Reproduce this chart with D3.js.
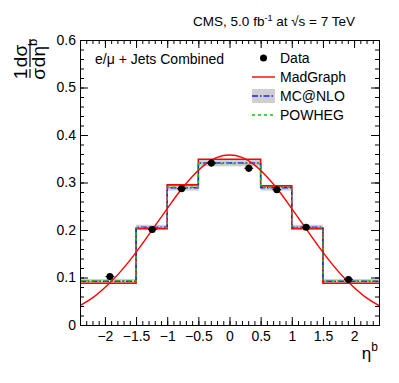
<!DOCTYPE html>
<html>
<head>
<meta charset="utf-8">
<script src="https://cdn.jsdelivr.net/npm/d3@7"></script>
<style>
  body { margin: 0; background: #fff; }
  svg { font-family: "Liberation Sans", Arial, sans-serif; }
  .tick text { font-size: 14px; fill: #000; }
</style>
</head>
<body>
<div id="wrapper"></div>
<script>
// data
const binEdges = [-2.4, -1.5, -1, -0.5, 0, 0.5, 1, 1.5, 2.4];
const madgraphHist = [0.088, 0.203, 0.295, 0.349, 0.349, 0.293, 0.203, 0.088];
const mcnloHist = [0.092, 0.206, 0.289, 0.341, 0.341, 0.289, 0.206, 0.092];
const mcnloErr = [0.005, 0.005, 0.006, 0.007, 0.007, 0.006, 0.005, 0.005];
const powhegHist = [0.093, 0.205, 0.290, 0.340, 0.340, 0.290, 0.205, 0.093];

const dataEta = [-1.92, -1.24, -0.77, -0.29, 0.31, 0.76, 1.23, 1.91];
const dataVal = [0.102, 0.201, 0.287, 0.341, 0.330, 0.285, 0.206, 0.096];
const dataErr = [0.006, 0.006, 0.007, 0.008, 0.008, 0.007, 0.006, 0.006];
const dataXErr = [0.07, 0.07, 0.07, 0.07, 0.07, 0.07, 0.07, 0.07];

const curveEta = [-2.4, -2.2, -2.0, -1.8, -1.6, -1.4, -1.2, -1.0, -0.8, -0.6, -0.4, -0.2, 0,
                  0.2, 0.4, 0.6, 0.8, 1.0, 1.2, 1.4, 1.6, 1.8, 2.0, 2.2, 2.4];
const curveVal = [0.041, 0.057, 0.079, 0.105, 0.136, 0.171, 0.208, 0.245, 0.281, 0.312, 0.337, 0.353, 0.358,
                  0.353, 0.337, 0.312, 0.281, 0.245, 0.208, 0.171, 0.136, 0.105, 0.079, 0.057, 0.041];

const xMajor = [-2, -1.5, -1, -0.5, 0, 0.5, 1, 1.5, 2];
const yMajor = [0, 0.1, 0.2, 0.3, 0.4, 0.5, 0.6];

// dimensions
let dimensions = {
  width: 399,
  height: 383,
  margin: { top: 40, right: 20, bottom: 58, left: 80 }
};
dimensions.boundedWidth = dimensions.width - dimensions.margin.left - dimensions.margin.right;
dimensions.boundedHeight = dimensions.height - dimensions.margin.top - dimensions.margin.bottom;

const wrapper = d3.select("#wrapper").append("svg")
  .attr("width", dimensions.width)
  .attr("height", dimensions.height);

const bounds = wrapper.append("g")
  .attr("transform", `translate(${dimensions.margin.left}, ${dimensions.margin.top})`);

// scales
const x = d3.scaleLinear().domain([-2.4, 2.4]).range([0, dimensions.boundedWidth]);
const y = d3.scaleLinear().domain([0, 0.6]).range([dimensions.boundedHeight, 0]);

wrapper.append("defs").append("clipPath").attr("id", "clip")
  .append("rect").attr("width", dimensions.boundedWidth).attr("height", dimensions.boundedHeight);

const plot = bounds.append("g").attr("clip-path", "url(#clip)");

// MC@NLO uncertainty band
plot.selectAll(".band")
  .data(mcnloHist)
  .join("rect")
  .attr("class", "band")
  .attr("x", (d, i) => x(binEdges[i]))
  .attr("width", (d, i) => x(binEdges[i + 1]) - x(binEdges[i]))
  .attr("y", (d, i) => y(d + mcnloErr[i]))
  .attr("height", (d, i) => y(d - mcnloErr[i]) - y(d + mcnloErr[i]))
  .attr("fill", "#cfcfcf");

const stepLine = d3.line()
  .x(d => x(d[0]))
  .y(d => y(d[1]))
  .curve(d3.curveStepAfter);

const stepPoints = vals => vals.map((v, i) => [binEdges[i], v]).concat([[binEdges[binEdges.length - 1], vals[vals.length - 1]]]);

plot.append("path")
  .attr("d", stepLine(stepPoints(madgraphHist)))
  .attr("fill", "none").attr("stroke", "#ff0000").attr("stroke-width", 1.6);

plot.append("path")
  .attr("d", stepLine(stepPoints(mcnloHist)))
  .attr("fill", "none").attr("stroke", "#2020ff").attr("stroke-width", 1.4)
  .attr("stroke-dasharray", "6,2,1.5,2");

plot.append("path")
  .attr("d", stepLine(stepPoints(powhegHist)))
  .attr("fill", "none").attr("stroke", "#00cc00").attr("stroke-width", 1.4)
  .attr("stroke-dasharray", "3,3");

// smooth curve
const curveLine = d3.line()
  .x((d, i) => x(curveEta[i]))
  .y(d => y(d))
  .curve(d3.curveCatmullRom);

plot.append("path")
  .attr("d", curveLine(curveVal))
  .attr("fill", "none").attr("stroke", "#ff0000").attr("stroke-width", 1.4);

// data points
const pts = plot.selectAll(".pt")
  .data(dataVal)
  .join("g")
  .attr("class", "pt");

pts.append("line")
  .attr("x1", (d, i) => x(dataEta[i])).attr("x2", (d, i) => x(dataEta[i]))
  .attr("y1", (d, i) => y(d - dataErr[i])).attr("y2", (d, i) => y(d + dataErr[i]))
  .attr("stroke", "#000").attr("stroke-width", 1.2);

pts.append("line")
  .attr("x1", (d, i) => x(dataEta[i] - dataXErr[i])).attr("x2", (d, i) => x(dataEta[i] + dataXErr[i]))
  .attr("y1", d => y(d)).attr("y2", d => y(d))
  .attr("stroke", "#000").attr("stroke-width", 1.2);

pts.append("circle")
  .attr("cx", (d, i) => x(dataEta[i]))
  .attr("cy", d => y(d))
  .attr("r", 3.5)
  .attr("fill", "#000");

// axes
const xMinor = d3.range(-2.4, 2.401, 0.1).map(v => +v.toFixed(1));
const yMinor = d3.range(0, 0.601, 0.02).map(v => +v.toFixed(2));

const styleAxis = g => {
  g.select(".domain").attr("stroke", "#000").attr("stroke-width", 1);
  g.selectAll(".tick line").attr("stroke", "#000");
};

bounds.append("g")
  .attr("transform", `translate(0, ${dimensions.boundedHeight})`)
  .call(d3.axisBottom(x).tickValues(xMinor).tickSize(-4).tickFormat("").tickPadding(0))
  .call(styleAxis);

bounds.append("g")
  .attr("transform", `translate(0, ${dimensions.boundedHeight})`)
  .call(d3.axisBottom(x).tickValues(xMajor).tickSize(-8).tickPadding(6).tickFormat(d3.format("")))
  .call(styleAxis)
  .call(g => g.select(".domain").remove());

bounds.append("g")
  .call(d3.axisTop(x).tickValues(xMinor).tickSize(-4).tickFormat(""))
  .call(styleAxis);
bounds.append("g")
  .call(d3.axisTop(x).tickValues(xMajor).tickSize(-8).tickFormat(""))
  .call(styleAxis)
  .call(g => g.select(".domain").remove());

bounds.append("g")
  .call(d3.axisLeft(y).tickValues(yMinor).tickSize(-4).tickFormat(""))
  .call(styleAxis);
bounds.append("g")
  .call(d3.axisLeft(y).tickValues(yMajor).tickSize(-8).tickPadding(4).tickFormat(d => d === 0 ? "0" : d3.format(".1f")(d)))
  .call(styleAxis)
  .call(g => g.select(".domain").remove());

bounds.append("g")
  .attr("transform", `translate(${dimensions.boundedWidth}, 0)`)
  .call(d3.axisRight(y).tickValues(yMinor).tickSize(-4).tickFormat(""))
  .call(styleAxis);
bounds.append("g")
  .attr("transform", `translate(${dimensions.boundedWidth}, 0)`)
  .call(d3.axisRight(y).tickValues(yMajor).tickSize(-8).tickFormat(""))
  .call(styleAxis)
  .call(g => g.select(".domain").remove());

wrapper.selectAll(".tick text").attr("font-family", "Liberation Sans, Arial, sans-serif");

// titles
const title = wrapper.append("text")
  .attr("x", 355).attr("y", 26)
  .attr("text-anchor", "end")
  .attr("font-size", 13.5);
title.append("tspan").text("CMS, 5.0 fb");
title.append("tspan").attr("font-size", 9).attr("dy", -5).text("-1");
title.append("tspan").attr("dy", 5).text(" at \u221As = 7 TeV");

wrapper.append("text")
  .attr("x", 95).attr("y", 64)
  .attr("font-size", 14)
  .text("e/\u03bc + Jets Combined");

// y axis title (fraction, rotated)
const yTitle = wrapper.append("g")
  .attr("transform", "translate(30, 60) rotate(-90)")
  .attr("font-size", 19);
yTitle.append("text").attr("x", -14).attr("y", -3).attr("text-anchor", "middle").text("1");
yTitle.append("text").attr("x", -14).attr("y", 15).attr("text-anchor", "middle").text("\u03c3");
yTitle.append("line").attr("x1", -18).attr("x2", -9).attr("y1", 0).attr("y2", 0).attr("stroke", "#000").attr("stroke-width", 1.2);
yTitle.append("text").attr("x", 4).attr("y", -3).attr("text-anchor", "middle").text("d\u03c3");
const den = yTitle.append("text").attr("x", 7).attr("y", 15).attr("text-anchor", "middle");
den.append("tspan").text("d\u03b7");
den.append("tspan").attr("font-size", 13).attr("dy", -8).text("b");
yTitle.append("line").attr("x1", -7).attr("x2", 21).attr("y1", 0).attr("y2", 0).attr("stroke", "#000").attr("stroke-width", 1.2);

// x axis title
const xTitle = wrapper.append("text")
  .attr("x", 378).attr("y", 359)
  .attr("text-anchor", "end")
  .attr("font-size", 17);
xTitle.append("tspan").text("\u03b7");
xTitle.append("tspan").attr("font-size", 12).attr("dy", -8).text("b");

// legend
const legend = wrapper.append("g").attr("font-size", 14);
const legendRows = ["Data", "MadGraph", "MC@NLO", "POWHEG"];
const rowY = d3.scalePoint().domain(legendRows).range([58, 115]);
const lx0 = 252, lx1 = 275;

legend.selectAll("text")
  .data(legendRows)
  .join("text")
  .attr("x", 280)
  .attr("y", d => rowY(d) + 5)
  .text(d => d);

legend.append("circle").attr("cx", (lx0 + lx1) / 2).attr("cy", rowY("Data")).attr("r", 3.5).attr("fill", "#000");
legend.append("line").attr("x1", lx0).attr("x2", lx1).attr("y1", rowY("MadGraph")).attr("y2", rowY("MadGraph"))
  .attr("stroke", "#ff0000").attr("stroke-width", 1.4);
legend.append("rect").attr("x", lx0).attr("width", lx1 - lx0).attr("y", rowY("MC@NLO") - 7).attr("height", 14)
  .attr("fill", "#cfcfcf");
legend.append("line").attr("x1", lx0).attr("x2", lx1).attr("y1", rowY("MC@NLO")).attr("y2", rowY("MC@NLO"))
  .attr("stroke", "#2020ff").attr("stroke-width", 1.4).attr("stroke-dasharray", "6,2,1.5,2");
legend.append("line").attr("x1", lx0).attr("x2", lx1).attr("y1", rowY("POWHEG")).attr("y2", rowY("POWHEG"))
  .attr("stroke", "#00cc00").attr("stroke-width", 1.4).attr("stroke-dasharray", "3,3");
</script>
</body>
</html>
